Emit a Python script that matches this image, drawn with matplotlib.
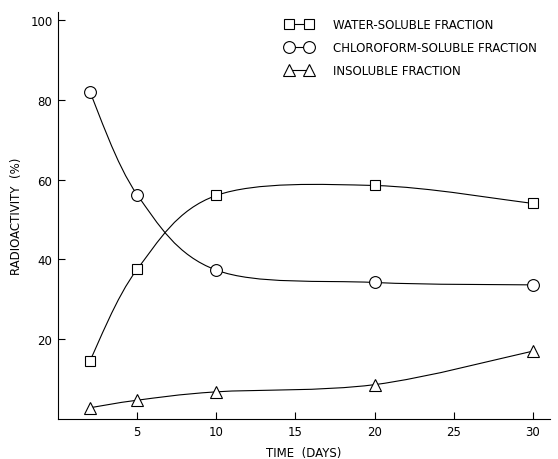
import numpy as np
import matplotlib
matplotlib.use("Agg")
import matplotlib.pyplot as plt
from matplotlib.path import Path
from matplotlib.patches import PathPatch

# data
days = [2, 5, 10, 20, 30]
water_soluble = [14.5, 37.5, 56.0, 58.5, 54.0]
chloroform_soluble = [82.0, 56.2, 37.3, 34.2, 33.6]
insoluble = [2.8, 4.7, 6.8, 8.6, 17.0]

series_names = ["WATER-SOLUBLE FRACTION",
                "CHLOROFORM-SOLUBLE FRACTION",
                "INSOLUBLE FRACTION"]
x_ticks = [5, 10, 15, 20, 25, 30]
y_ticks = [20, 40, 60, 80, 100]

LW = 0.8
FONT = 8.5


def smooth_path(x, y):
    # Catmull-Rom through the data points, drawn as cubic Bezier segments
    x = np.asarray(x, float)
    y = np.asarray(y, float)
    verts = [(x[0], y[0])]
    codes = [Path.MOVETO]
    n = len(x)
    for i in range(n - 1):
        p0 = np.array([x[max(i - 1, 0)], y[max(i - 1, 0)]])
        p1 = np.array([x[i], y[i]])
        p2 = np.array([x[i + 1], y[i + 1]])
        p3 = np.array([x[min(i + 2, n - 1)], y[min(i + 2, n - 1)]])
        c1 = p1 + (p2 - p0) / 6.0
        c2 = p2 - (p3 - p1) / 6.0
        verts += [tuple(c1), tuple(c2), tuple(p2)]
        codes += [Path.CURVE4] * 3
    return Path(verts, codes)


fig = plt.figure(figsize=(5.58, 4.6), dpi=100)
ax = fig.add_axes([0.104, 0.087, 0.882, 0.885])

markers = [("s", 7), ("o", 8.5), ("^", 8)]
for vals, (m, ms), name in zip([water_soluble, chloroform_soluble, insoluble],
                               markers, series_names):
    ax.add_patch(PathPatch(smooth_path(days, vals), fill=False,
                           edgecolor="black", lw=LW, zorder=2))
    ax.plot(days, vals, linestyle="-", lw=0, marker=m, ms=ms,
            mfc="white", mec="black", mew=LW, zorder=3)
    # legend proxy
    ax.plot([], [], color="black", lw=LW, marker=m, ms=ms,
            mfc="white", mec="black", mew=LW, label=name)

ax.set_xlim(0, 31.1)
ax.set_ylim(0, 102)
ax.set_xticks(x_ticks)
ax.set_yticks(y_ticks)
ax.tick_params(direction="in", length=5, width=LW, labelsize=FONT, pad=4)

for s in ["top", "right"]:
    ax.spines[s].set_visible(False)
for s in ["left", "bottom"]:
    ax.spines[s].set_linewidth(LW)

ax.set_xlabel("TIME  (DAYS)", fontsize=FONT, labelpad=6)
ax.set_ylabel("RADIOACTIVITY  (%)", fontsize=FONT, labelpad=5)

ax.legend(loc="upper left", bbox_to_anchor=(285 / 558, 1 - 19 / 460),
          bbox_transform=fig.transFigure, frameon=False,
          numpoints=2, handlelength=2.3, fontsize=8.5,
          labelspacing=0.85, handletextpad=1.8, borderaxespad=0.0,
          borderpad=0.0)

fig.savefig("out.png", dpi=100)
